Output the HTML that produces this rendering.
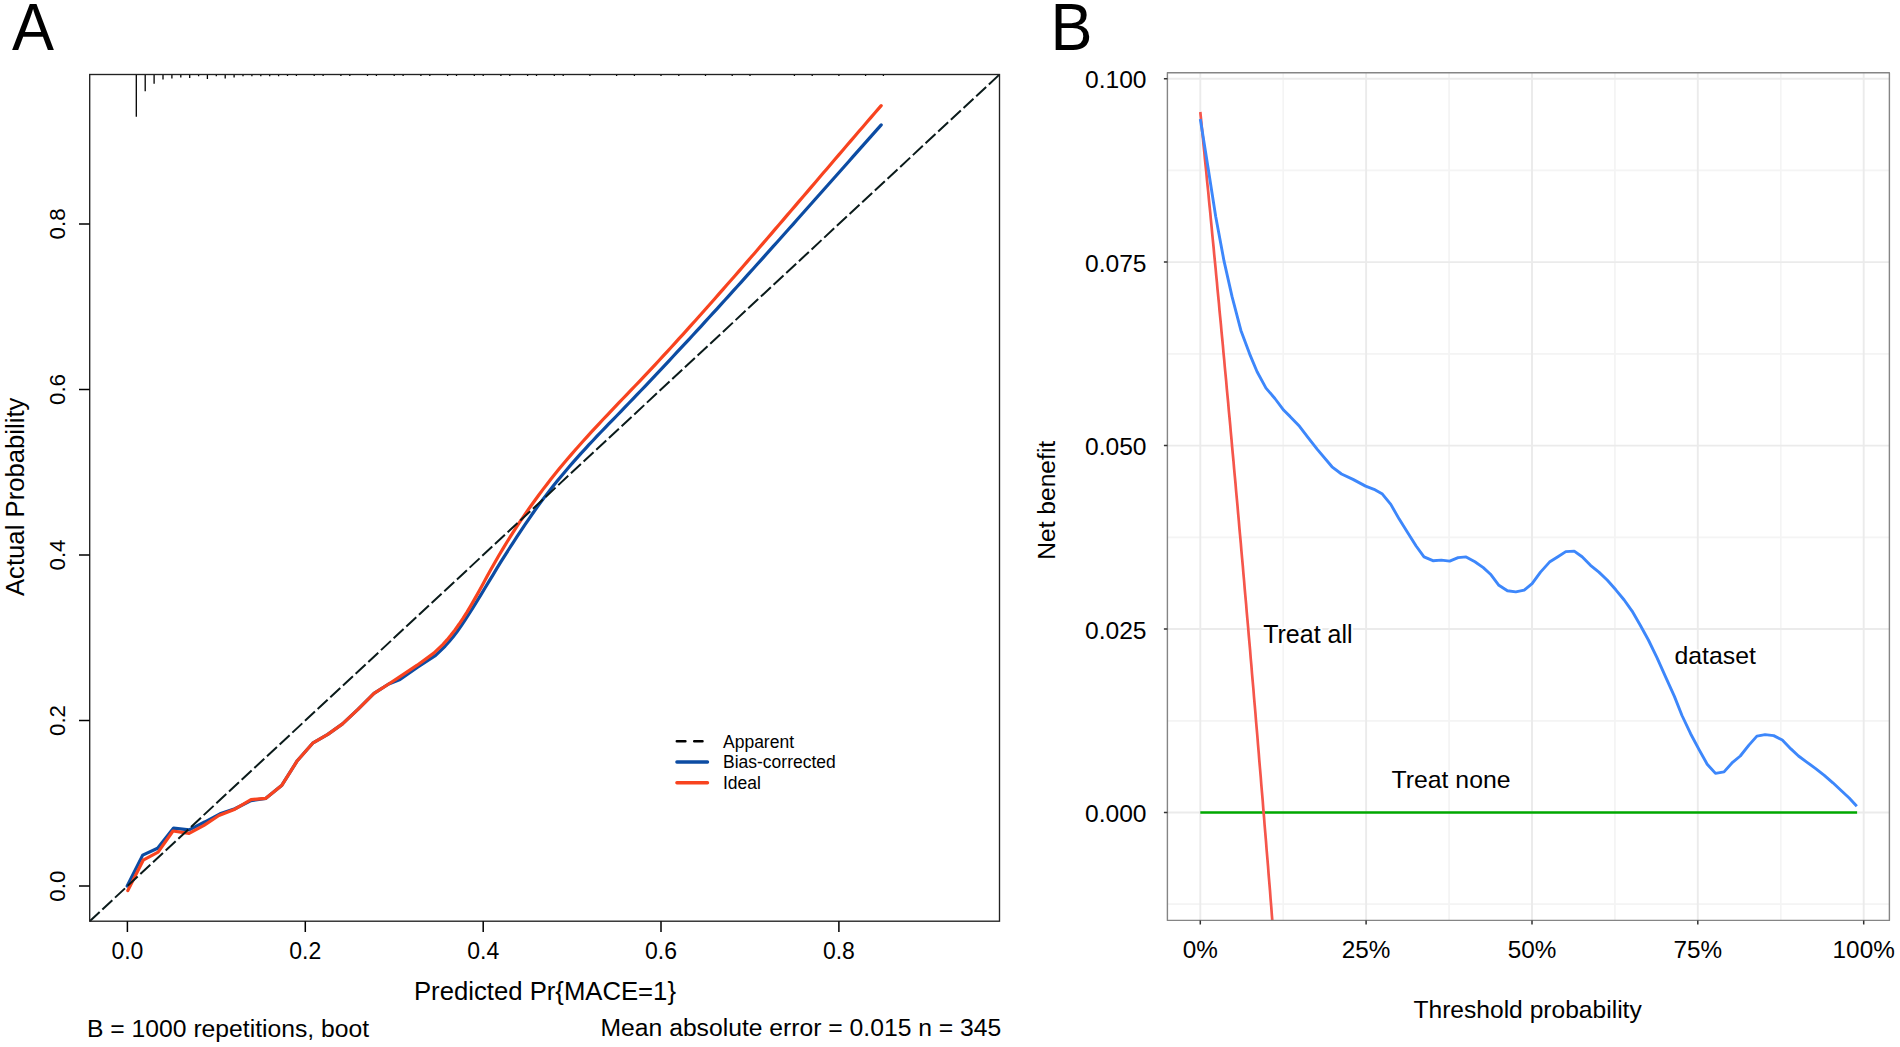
<!DOCTYPE html>
<html><head><meta charset="utf-8"><title>Calibration and decision curve</title>
<style>html,body{margin:0;padding:0;background:#fff;width:1900px;height:1047px;overflow:hidden}</style>
</head><body>
<svg width="1900" height="1047" viewBox="0 0 1900 1047" style="display:block">
<rect width="1900" height="1047" fill="#ffffff"/>
<g font-family='"Liberation Sans", Arial, Helvetica, sans-serif' fill="#000">
<text transform="translate(12,49.6) scale(1,1.045)" font-size="63">A</text>
<path d="M136.3,74.5V116.8M145.2,74.5V91.3M154.1,74.5V83.7M163.0,74.5V79.5M171.9,74.5V78.4M180.8,74.5V77.4M189.7,74.5V78.0M198.6,74.5V76.3M207.4,74.5V79.0M216.3,74.5V76.3M225.2,74.5V78.4M234.1,74.5V77.4M243.0,74.5V76.2M251.9,74.5V76.2M260.8,74.5V76.2M269.7,74.5V76.2M278.6,74.5V76.2M287.5,74.5V75.9M296.4,74.5V75.9M314.2,74.5V75.9M323.1,74.5V75.9M340.9,74.5V75.9M349.8,74.5V75.9M367.5,74.5V75.9M376.4,74.5V75.9M394.2,74.5V75.9M403.1,74.5V75.9M420.9,74.5V75.9M429.8,74.5V75.9M447.6,74.5V75.9M456.5,74.5V75.9M474.3,74.5V75.9M483.2,74.5V75.9M500.9,74.5V75.9M509.8,74.5V75.9M527.6,74.5V75.9M536.5,74.5V75.9M554.3,74.5V75.9M563.2,74.5V75.9M589.9,74.5V75.9M616.6,74.5V75.9M634.4,74.5V75.9M661.0,74.5V75.9M678.8,74.5V75.9M705.5,74.5V75.9M732.2,74.5V75.9M750.0,74.5V75.9M794.4,74.5V75.9M812.2,74.5V75.9M838.9,74.5V75.9M865.6,74.5V75.9M883.4,74.5V75.9" stroke="#000" stroke-width="1.3" fill="none"/>
<polyline points="127.2,886.0 142.7,855.1 157.6,848.2 173.6,828.1 189.1,829.9 205.1,821.8 220.0,813.8 234.9,808.7 251.0,800.6 265.9,798.3 281.9,785.2 297.3,760.7 313.1,742.8 327.8,734.4 342.5,723.9 358.2,709.2 374.0,693.4 388.7,684.0 400.0,679.5 417.2,667.5 435.6,655.4 445.0,646.3 449.0,641.8 453.0,636.9 457.0,631.7 461.0,626.1 465.0,620.2 469.0,614.0 473.0,607.7 477.0,601.2 481.0,594.6 485.0,588.0 489.0,581.4 493.0,574.8 497.0,568.2 501.0,561.7 505.0,555.3 509.0,549.0 513.0,542.8 517.0,536.6 521.0,530.6 525.0,524.6 529.0,518.8 533.0,513.0 537.0,507.4 541.0,501.9 545.0,496.6 549.0,491.4 553.0,486.3 557.0,481.3 561.0,476.4 565.0,471.7 569.0,467.0 573.0,462.4 577.0,457.9 581.0,453.4 585.0,449.1 589.0,444.7 593.0,440.5 597.0,436.2 601.0,432.0 605.0,427.9 609.0,423.7 613.0,419.6 617.0,415.5 621.0,411.3 625.0,407.2 629.0,403.0 633.0,398.9 637.0,394.7 641.0,390.5 645.0,386.3 649.0,382.1 653.0,377.9 657.0,373.6 661.0,369.4 665.0,365.1 669.0,360.8 673.0,356.5 677.0,352.2 681.0,347.9 685.0,343.6 689.0,339.3 693.0,335.0 697.0,330.6 701.0,326.3 705.0,321.9 709.0,317.5 713.0,313.2 717.0,308.8 721.0,304.4 725.0,300.0 729.0,295.6 733.0,291.2 737.0,286.7 741.0,282.3 745.0,277.9 749.0,273.4 753.0,269.0 757.0,264.5 761.0,260.1 765.0,255.6 769.0,251.1 773.0,246.7 777.0,242.2 781.0,237.7 785.0,233.2 789.0,228.7 793.0,224.3 797.0,219.8 801.0,215.3 805.0,210.8 809.0,206.3 813.0,201.8 817.0,197.2 821.0,192.7 825.0,188.2 829.0,183.7 833.0,179.2 837.0,174.7 841.0,170.2 845.0,165.7 849.0,161.2 853.0,156.6 857.0,152.1 861.0,147.6 865.0,143.1 869.0,138.6 873.0,134.1 877.0,129.6 881.0,125.1 881.2,124.9" fill="none" stroke="#0c4ca3" stroke-width="3.2" stroke-linejoin="round" stroke-linecap="round"/>
<polyline points="127.8,890.6 143.2,860.2 158.1,852.2 173.0,831.0 189.1,833.3 204.0,825.3 218.9,815.5 234.9,809.2 251.0,799.7 265.9,798.3 281.9,785.2 297.3,760.7 313.1,742.8 327.8,734.4 342.5,723.9 358.2,709.2 374.0,693.4 388.7,684.0 400.0,676.6 417.2,665.2 433.8,653.1 443.0,644.4 447.0,639.9 451.0,635.1 455.0,629.9 459.0,624.3 463.0,618.4 467.0,612.1 471.0,605.4 475.0,598.4 479.0,591.2 483.0,583.9 487.0,576.5 491.0,569.3 495.0,562.2 499.0,555.3 503.0,548.6 507.0,542.0 511.0,535.6 515.0,529.3 519.0,523.2 523.0,517.3 527.0,511.4 531.0,505.8 535.0,500.2 539.0,494.7 543.0,489.4 547.0,484.2 551.0,479.1 555.0,474.1 559.0,469.1 563.0,464.3 567.0,459.5 571.0,454.9 575.0,450.2 579.0,445.7 583.0,441.2 587.0,436.8 591.0,432.4 595.0,428.1 599.0,423.8 603.0,419.5 607.0,415.3 611.0,411.1 615.0,406.9 619.0,402.7 623.0,398.5 627.0,394.3 631.0,390.2 635.0,386.0 639.0,381.8 643.0,377.6 647.0,373.3 651.0,369.1 655.0,364.8 659.0,360.5 663.0,356.1 667.0,351.8 671.0,347.5 675.0,343.1 679.0,338.7 683.0,334.3 687.0,329.9 691.0,325.4 695.0,321.0 699.0,316.5 703.0,312.0 707.0,307.5 711.0,303.0 715.0,298.5 719.0,293.9 723.0,289.4 727.0,284.8 731.0,280.3 735.0,275.7 739.0,271.1 743.0,266.5 747.0,261.9 751.0,257.3 755.0,252.7 759.0,248.0 763.0,243.4 767.0,238.7 771.0,234.1 775.0,229.4 779.0,224.8 783.0,220.1 787.0,215.4 791.0,210.8 795.0,206.1 799.0,201.4 803.0,196.7 807.0,192.1 811.0,187.4 815.0,182.7 819.0,178.0 823.0,173.3 827.0,168.7 831.0,164.0 835.0,159.3 839.0,154.6 843.0,150.0 847.0,145.3 851.0,140.6 855.0,136.0 859.0,131.3 863.0,126.7 867.0,122.0 871.0,117.4 875.0,112.8 879.0,108.1 881.2,105.6" fill="none" stroke="#f8431f" stroke-width="3.2" stroke-linejoin="round" stroke-linecap="round"/>
<line x1="89.7" y1="921.2" x2="999.5" y2="74.5" stroke="#0a1a1a" stroke-width="2.0" stroke-dasharray="13.6 3.7"/>
<rect x="89.7" y="74.5" width="909.8" height="846.7" fill="none" stroke="#222" stroke-width="1.35"/>
<path d="M79,886.1H89.7M127.4,921.2V932M79,720.5H89.7M305.3,921.2V932M79,555.0H89.7M483.2,921.2V932M79,389.5H89.7M661.0,921.2V932M79,223.9H89.7M838.9,921.2V932" stroke="#000" stroke-width="1.5" fill="none"/>
<text x="127.4" y="959" font-size="23" text-anchor="middle">0.0</text>
<text transform="translate(64.6,886.1) rotate(-90)" font-size="22.4" text-anchor="middle">0.0</text>
<text x="305.3" y="959" font-size="23" text-anchor="middle">0.2</text>
<text transform="translate(64.6,720.5) rotate(-90)" font-size="22.4" text-anchor="middle">0.2</text>
<text x="483.2" y="959" font-size="23" text-anchor="middle">0.4</text>
<text transform="translate(64.6,555.0) rotate(-90)" font-size="22.4" text-anchor="middle">0.4</text>
<text x="661.0" y="959" font-size="23" text-anchor="middle">0.6</text>
<text transform="translate(64.6,389.5) rotate(-90)" font-size="22.4" text-anchor="middle">0.6</text>
<text x="838.9" y="959" font-size="23" text-anchor="middle">0.8</text>
<text transform="translate(64.6,223.9) rotate(-90)" font-size="22.4" text-anchor="middle">0.8</text>
<text x="545" y="1000.3" font-size="25.7" text-anchor="middle">Predicted Pr{MACE=1}</text>
<text transform="translate(23.6,496.8) rotate(-90)" font-size="25.7" text-anchor="middle">Actual Probability</text>
<text x="87" y="1036.6" font-size="24.7">B = 1000 repetitions, boot</text>
<text x="1001.3" y="1036.4" font-size="24.7" text-anchor="end">Mean absolute error = 0.015 n = 345</text>
<line x1="676.8" y1="741.3" x2="702.5" y2="741.3" stroke="#000" stroke-width="2.5" stroke-linecap="round" stroke-dasharray="8.6 8.8"/>
<line x1="676.9" y1="762" x2="707.5" y2="762" stroke="#0c4ca3" stroke-width="3.4" stroke-linecap="round"/>
<line x1="676.9" y1="782.8" x2="707.5" y2="782.8" stroke="#f8431f" stroke-width="3.4" stroke-linecap="round"/>
<text x="723" y="747.5" font-size="17.5">Apparent</text>
<text x="723" y="768" font-size="17.5">Bias-corrected</text>
<text x="723" y="788.5" font-size="17.5">Ideal</text>
</g>
<g font-family='"Liberation Sans", Arial, Helvetica, sans-serif' fill="#000">
<text transform="translate(1050.4,49.6) scale(1,1.045)" font-size="63">B</text>
<defs><clipPath id="cb"><rect x="1167.4" y="72.8" width="722.0" height="847.6"/></clipPath></defs>
<path d="M1167.4,904.2H1889.4M1167.4,720.8H1889.4M1167.4,537.3H1889.4M1167.4,353.9H1889.4M1167.4,170.4H1889.4M1283.2,72.8V920.4M1449.1,72.8V920.4M1614.9,72.8V920.4M1780.8,72.8V920.4" stroke="#f4f4f4" stroke-width="1.7" fill="none"/>
<path d="M1167.4,812.5H1889.4M1167.4,629.0H1889.4M1167.4,445.6H1889.4M1167.4,262.1H1889.4M1167.4,78.7H1889.4M1200.3,72.8V920.4M1366.1,72.8V920.4M1532.0,72.8V920.4M1697.8,72.8V920.4M1863.7,72.8V920.4" stroke="#ebebeb" stroke-width="1.9" fill="none"/>
<g clip-path="url(#cb)">
<line x1="1200.3" y1="812.5" x2="1857.1" y2="812.5" stroke="#00a800" stroke-width="2.4"/>
<polyline points="1200.3,112.0 1201.0,118.7 1201.6,125.3 1202.3,132.0 1203.0,138.7 1203.6,145.4 1204.3,152.1 1204.9,158.8 1205.6,165.5 1206.3,172.3 1206.9,179.1 1207.6,185.8 1208.3,192.6 1208.9,199.4 1209.6,206.3 1210.3,213.1 1210.9,219.9 1211.6,226.8 1212.2,233.7 1212.9,240.6 1213.6,247.5 1214.2,254.4 1214.9,261.3 1215.6,268.3 1216.2,275.2 1216.9,282.2 1217.5,289.2 1218.2,296.2 1218.9,303.2 1219.5,310.3 1220.2,317.3 1220.9,324.4 1221.5,331.4 1222.2,338.5 1222.9,345.6 1223.5,352.8 1224.2,359.9 1224.8,367.0 1225.5,374.2 1226.2,381.4 1226.8,388.6 1227.5,395.8 1228.2,403.0 1228.8,410.3 1229.5,417.5 1230.2,424.8 1230.8,432.1 1231.5,439.4 1232.1,446.7 1232.8,454.0 1233.5,461.4 1234.1,468.7 1234.8,476.1 1235.5,483.5 1236.1,490.9 1236.8,498.3 1237.5,505.8 1238.1,513.2 1238.8,520.7 1239.4,528.2 1240.1,535.7 1240.8,543.2 1241.4,550.7 1242.1,558.3 1242.8,565.9 1243.4,573.4 1244.1,581.0 1244.7,588.7 1245.4,596.3 1246.1,603.9 1246.7,611.6 1247.4,619.3 1248.1,627.0 1248.7,634.7 1249.4,642.4 1250.1,650.2 1250.7,658.0 1251.4,665.7 1252.0,673.5 1252.7,681.4 1253.4,689.2 1254.0,697.0 1254.7,704.9 1255.4,712.8 1256.0,720.7 1256.7,728.6 1257.4,736.6 1258.0,744.5 1258.7,752.5 1259.3,760.5 1260.0,768.5 1260.7,776.5 1261.3,784.5 1262.0,792.6 1262.7,800.7 1263.3,808.8 1264.0,816.9 1264.6,825.0 1265.3,833.2 1266.0,841.3 1266.6,849.5 1267.3,857.7 1268.0,865.9 1268.6,874.2 1269.3,882.4 1270.0,890.7 1270.6,899.0 1271.3,907.3 1271.9,915.7 1272.6,924.0 1273.3,932.4 1273.9,940.8 1274.6,949.2 1275.3,957.6 1275.9,966.1 1276.6,974.5 1277.3,983.0 1277.9,991.5 1278.6,1000.0 1279.2,1008.6 1279.9,1017.1" fill="none" stroke="#f5564b" stroke-width="2.7"/>
<polyline points="1200.3,118.9 1208.3,169.2 1215.7,216.5 1224.0,260.9 1232.0,296.4 1240.9,330.4 1249.7,354.1 1257.1,371.8 1266.0,388.1 1274.9,398.5 1283.8,410.3 1290.0,416.4 1299.5,426.3 1307.9,437.4 1317.3,449.4 1332.0,466.8 1341.5,474.0 1353.0,479.4 1365.6,486.1 1374.0,489.3 1382.4,494.1 1390.8,504.4 1399.2,519.1 1407.6,532.4 1416.1,546.0 1424.0,556.9 1432.9,560.7 1441.3,560.1 1449.7,561.1 1458.1,557.6 1466.1,556.9 1474.9,561.8 1483.3,567.6 1490.5,574.2 1498.9,585.3 1507.4,590.8 1515.8,591.9 1524.2,590.2 1532.1,583.7 1540.5,572.1 1549.5,562.1 1557.9,556.8 1565.8,551.6 1574.2,551.1 1582.1,556.8 1590.5,565.3 1598.9,572.1 1607.4,580.3 1615.8,589.8 1624.2,600.0 1632.1,611.1 1640.0,624.7 1648.4,640.0 1657.2,658.2 1665.8,677.3 1674.4,696.4 1682.0,715.5 1690.6,733.7 1699.2,749.9 1707.2,764.2 1715.5,773.4 1724.0,771.9 1732.6,762.3 1740.3,756.0 1748.9,745.1 1756.9,736.1 1765.1,734.6 1773.7,735.6 1782.3,740.0 1790.9,748.9 1798.5,756.0 1807.1,762.3 1815.7,768.6 1824.3,775.3 1832.9,782.8 1840.6,790.0 1849.2,798.0 1856.8,806.2" fill="none" stroke="#3d87fb" stroke-width="2.9" stroke-linejoin="round"/>
</g>
<rect x="1167.4" y="72.8" width="722.0" height="847.6" fill="none" stroke="#858585" stroke-width="1.4" stroke-linejoin="round"/>
<path d="M1163.9,812.5H1167.4M1163.9,629.0H1167.4M1163.9,445.6H1167.4M1163.9,262.1H1167.4M1163.9,78.7H1167.4M1200.3,920.4V924.5M1366.1,920.4V924.5M1532.0,920.4V924.5M1697.8,920.4V924.5M1863.7,920.4V924.5" stroke="#333" stroke-width="1.5" fill="none"/>
<text x="1146.5" y="822.1" font-size="24.6" text-anchor="end">0.000</text>
<text x="1146.5" y="638.6" font-size="24.6" text-anchor="end">0.025</text>
<text x="1146.5" y="455.2" font-size="24.6" text-anchor="end">0.050</text>
<text x="1146.5" y="271.8" font-size="24.6" text-anchor="end">0.075</text>
<text x="1146.5" y="88.3" font-size="24.6" text-anchor="end">0.100</text>
<text x="1200.3" y="957.6" font-size="24.3" text-anchor="middle">0%</text>
<text x="1366.1" y="957.6" font-size="24.3" text-anchor="middle">25%</text>
<text x="1532.0" y="957.6" font-size="24.3" text-anchor="middle">50%</text>
<text x="1697.8" y="957.6" font-size="24.3" text-anchor="middle">75%</text>
<text x="1863.7" y="957.6" font-size="24.3" text-anchor="middle">100%</text>
<text x="1527.6" y="1018.2" font-size="24.6" text-anchor="middle">Threshold probability</text>
<text transform="translate(1055.4,500.3) rotate(-90)" font-size="24.6" text-anchor="middle">Net benefit</text>
<text x="1263.2" y="642.8" font-size="25" stroke="#fff" stroke-width="4" stroke-linejoin="round" paint-order="stroke">Treat all</text>
<text x="1674.5" y="664.4" font-size="24.8" stroke="#fff" stroke-width="4" stroke-linejoin="round" paint-order="stroke">dataset</text>
<text x="1391.5" y="788.2" font-size="24.8" stroke="#fff" stroke-width="4" stroke-linejoin="round" paint-order="stroke">Treat none</text>
</g>
</svg>
</body></html>
